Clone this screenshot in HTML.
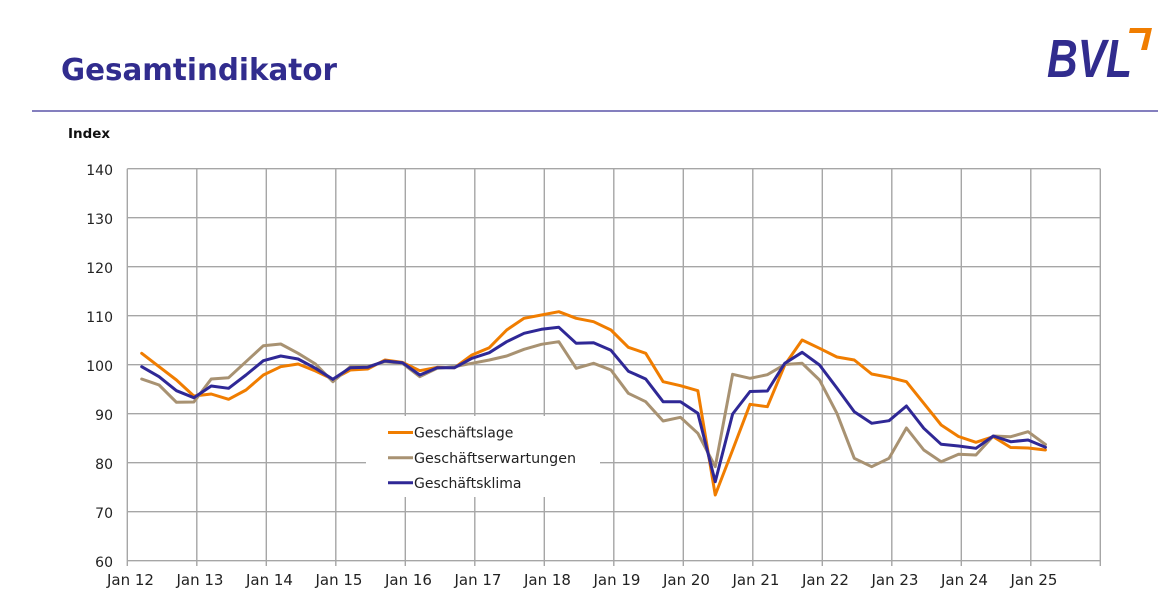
<!DOCTYPE html>
<html><head><meta charset="utf-8"><style>
html,body{margin:0;padding:0;background:#fff;}
svg{display:block;}
</style></head><body>
<svg width="1170" height="602" viewBox="0 0 1170 602" xmlns="http://www.w3.org/2000/svg">
<rect width="1170" height="602" fill="#fff"/>
<text x="61" y="80" font-family="DejaVu Sans, Verdana, sans-serif" font-weight="bold" font-size="30" fill="#312c8e" textLength="276" lengthAdjust="spacingAndGlyphs">Gesamtindikator</text>
<text x="1047" y="77" font-family="Liberation Sans, DejaVu Sans, sans-serif" font-style="italic" font-weight="bold" font-size="54" fill="#312c8e" textLength="85" lengthAdjust="spacingAndGlyphs">BVL</text>
<polygon points="1130,28 1152,28 1147,50 1141,50 1145.5,33 1129,33" fill="#f07d00"/>
<line x1="32" y1="111" x2="1158" y2="111" stroke="#5b55a8" stroke-width="1.5"/>
<text x="68" y="138" font-family="DejaVu Sans, Verdana, sans-serif" font-weight="bold" font-size="13" fill="#111" textLength="42" lengthAdjust="spacingAndGlyphs">Index</text>
<g stroke="#a6a6a6" stroke-width="1.4" fill="none">
<line x1="127.3" y1="168.7" x2="1100.3" y2="168.7"/>
<line x1="127.3" y1="217.7" x2="1100.3" y2="217.7"/>
<line x1="127.3" y1="266.7" x2="1100.3" y2="266.7"/>
<line x1="127.3" y1="315.7" x2="1100.3" y2="315.7"/>
<line x1="127.3" y1="364.7" x2="1100.3" y2="364.7"/>
<line x1="127.3" y1="413.7" x2="1100.3" y2="413.7"/>
<line x1="127.3" y1="462.7" x2="1100.3" y2="462.7"/>
<line x1="127.3" y1="511.7" x2="1100.3" y2="511.7"/>
<line x1="127.3" y1="560.7" x2="1100.3" y2="560.7"/>
<line x1="127.3" y1="168.7" x2="127.3" y2="566"/>
<line x1="196.8" y1="168.7" x2="196.8" y2="566"/>
<line x1="266.3" y1="168.7" x2="266.3" y2="566"/>
<line x1="335.8" y1="168.7" x2="335.8" y2="566"/>
<line x1="405.3" y1="168.7" x2="405.3" y2="566"/>
<line x1="474.8" y1="168.7" x2="474.8" y2="566"/>
<line x1="544.3" y1="168.7" x2="544.3" y2="566"/>
<line x1="613.8" y1="168.7" x2="613.8" y2="566"/>
<line x1="683.3" y1="168.7" x2="683.3" y2="566"/>
<line x1="752.8" y1="168.7" x2="752.8" y2="566"/>
<line x1="822.3" y1="168.7" x2="822.3" y2="566"/>
<line x1="891.8" y1="168.7" x2="891.8" y2="566"/>
<line x1="961.3" y1="168.7" x2="961.3" y2="566"/>
<line x1="1030.8" y1="168.7" x2="1030.8" y2="566"/>
<line x1="1100.3" y1="168.7" x2="1100.3" y2="566"/>
</g>
<rect x="366" y="416" width="234" height="81" fill="#fff"/>
<g font-family="DejaVu Sans, Verdana, sans-serif" font-size="14" fill="#222" text-anchor="end">
<text x="113" y="175">140</text>
<text x="113" y="224">130</text>
<text x="113" y="273">120</text>
<text x="113" y="322">110</text>
<text x="113" y="371">100</text>
<text x="113" y="420">90</text>
<text x="113" y="469">80</text>
<text x="113" y="518">70</text>
<text x="113" y="567">60</text>
</g>
<g font-family="DejaVu Sans, Verdana, sans-serif" font-size="15" fill="#222" text-anchor="middle">
<text x="130.5" y="585">Jan 12</text>
<text x="200" y="585">Jan 13</text>
<text x="269.5" y="585">Jan 14</text>
<text x="339" y="585">Jan 15</text>
<text x="408.5" y="585">Jan 16</text>
<text x="478" y="585">Jan 17</text>
<text x="547.5" y="585">Jan 18</text>
<text x="617" y="585">Jan 19</text>
<text x="686.5" y="585">Jan 20</text>
<text x="756" y="585">Jan 21</text>
<text x="825.5" y="585">Jan 22</text>
<text x="895" y="585">Jan 23</text>
<text x="964.5" y="585">Jan 24</text>
<text x="1034" y="585">Jan 25</text>
</g>
<g fill="none" stroke-width="3" stroke-linejoin="round" stroke-linecap="round">
<polyline stroke="#f07d00" points="141.7,353.3 159.08,366.7 176.46,380 193.84,396 211.22,394 228.6,399.3 245.98,390 263.36,375 280.74,366.7 298.12,364 315.5,371 332.88,379.3 350.26,370 367.64,369 385.02,360 402.4,362.3 419.78,370.7 437.16,367.3 454.54,367.7 471.92,355 489.3,347.7 506.68,330 524.06,318.3 541.44,315 558.82,311.7 576.2,318.3 593.58,321.7 610.96,330 628.34,347.3 645.72,353.3 663.1,381.7 680.48,385.7 697.86,390.7 715.24,495 732.62,450 750,404.3 767.38,406.7 784.76,365 802.14,340 819.52,348.3 836.9,357 854.28,360 871.66,374 889.04,377.3 906.42,381.7 923.8,403.3 941.18,425 958.56,436.5 975.94,442.3 993.32,436.7 1010.7,447.5 1028.08,448 1045.46,450"/>
<polyline stroke="#a89272" points="141.7,379 159.08,385 176.46,402.3 193.84,402 211.22,379 228.6,377.7 245.98,361.7 263.36,345.7 280.74,344 298.12,353.3 315.5,364 332.88,381.7 350.26,366.7 367.64,366.7 385.02,361.7 402.4,363.3 419.78,376.7 437.16,368.3 454.54,366.7 471.92,363.3 489.3,360 506.68,356 524.06,349.3 541.44,344.3 558.82,341.7 576.2,368.3 593.58,363.3 610.96,370 628.34,393.3 645.72,401.7 663.1,421 680.48,417.3 697.86,433.3 715.24,466.7 732.62,374.3 750,378.3 767.38,374.7 784.76,364.5 802.14,363.3 819.52,380 836.9,413.3 854.28,458.3 871.66,466.7 889.04,458.3 906.42,428 923.8,450 941.18,461.7 958.56,454.2 975.94,455 993.32,436 1010.7,436.7 1028.08,431.7 1045.46,444.5"/>
<polyline stroke="#2f2896" points="141.7,366.7 159.08,376.7 176.46,390.7 193.84,397.7 211.22,386 228.6,388.3 245.98,375 263.36,360.7 280.74,356 298.12,359 315.5,368.3 332.88,379.3 350.26,367.7 367.64,367.3 385.02,361 402.4,362.7 419.78,375 437.16,367.7 454.54,367.7 471.92,358.3 489.3,352.7 506.68,341.7 524.06,333.3 541.44,329.3 558.82,327.3 576.2,343.3 593.58,342.7 610.96,350.3 628.34,371.2 645.72,379 663.1,401.7 680.48,401.7 697.86,413.3 715.24,481.7 732.62,414 750,391.5 767.38,391 784.76,363.3 802.14,352.3 819.52,365 836.9,388 854.28,411.7 871.66,423.3 889.04,420.7 906.42,406 923.8,428.3 941.18,444.3 958.56,446 975.94,448.3 993.32,436 1010.7,441.7 1028.08,440 1045.46,447.3"/>
</g>
<g stroke-width="3">
<line x1="388" y1="432.5" x2="413" y2="432.5" stroke="#f07d00"/>
<line x1="388" y1="457.8" x2="413" y2="457.8" stroke="#a89272"/>
<line x1="388" y1="482.8" x2="413" y2="482.8" stroke="#2f2896"/>
</g>
<g font-family="DejaVu Sans, Verdana, sans-serif" font-size="14" fill="#222">
<text x="414" y="437.5">Geschäftslage</text>
<text x="414" y="462.8" textLength="162" lengthAdjust="spacingAndGlyphs">Geschäftserwartungen</text>
<text x="414" y="487.8">Geschäftsklima</text>
</g>
</svg>
</body></html>
